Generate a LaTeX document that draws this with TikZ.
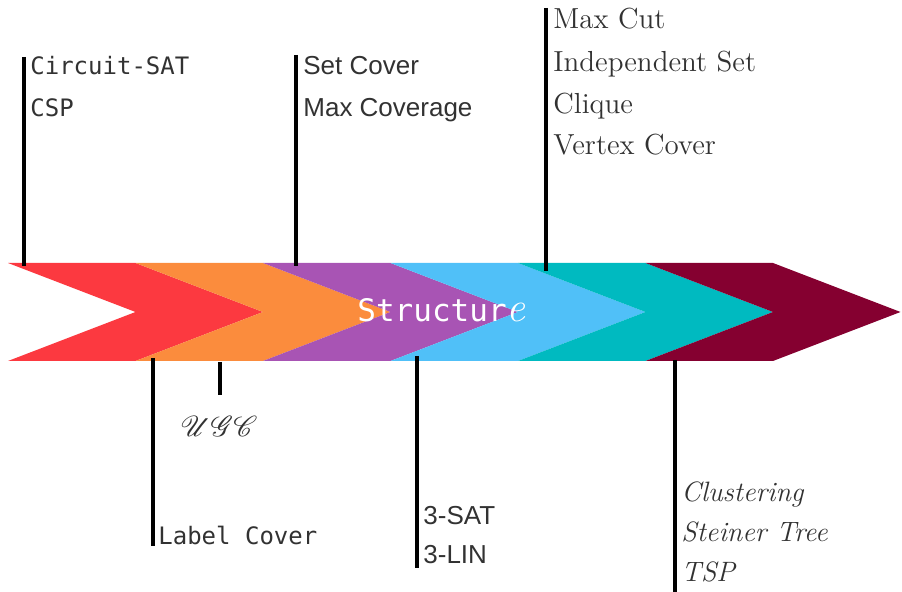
\documentclass[tikz,border=0pt]{standalone}
\usepackage{fontspec}
\usepackage{amsmath, mathrsfs}
\usepackage{tikz}
\setmonofont{DejaVu Sans Mono}
\newfontfamily\arialfont{Liberation Sans}
\definecolor{cRed}{RGB}{252,57,64}
\definecolor{cOrange}{RGB}{251,140,61}
\definecolor{cPurple}{RGB}{168,84,180}
\definecolor{cBlue}{RGB}{80,192,248}
\definecolor{cTeal}{RGB}{0,186,192}
\definecolor{cMaroon}{RGB}{133,0,48}
\definecolor{txtgray}{RGB}{50,50,50}
\tikzset{
  lbl/.style = {anchor=base west, inner sep=0pt, text=txtgray},
  monolbl/.style = {lbl, font=\ttfamily\fontsize{12}{14}\selectfont},
  sanslbl/.style = {lbl, font=\arialfont\fontsize{13}{15}\selectfont},
  seriflbl/.style = {lbl, font=\fontsize{14.5}{16}\selectfont},
  itlbl/.style = {lbl, font=\itshape\fontsize{14}{16}\selectfont},
  tbar/.style = {line width=2pt, black}
}

\begin{document}
\begin{tikzpicture}[x=0.5pt, y=-0.5pt]
        \useasboundingbox (0, 0) rectangle (902, 592);
        % chevrons
        \foreach \c [count=\i from 0] in {cRed, cOrange, cPurple, cBlue, cTeal, cMaroon} {
            \pgfmathsetmacro{\a}{8 + 127.5*\i}
            \fill[\c] (\a, 263) -- ++(127.5, 0) -- ++(127.5, 49) -- ++(-127.5, 49)
                -- ++(-127.5, 0) -- ++(127.5, -49) -- cycle;
        }
        \node[anchor=base west, inner sep=0pt, text=white] (Structure) at (357, 322)
            {\ttfamily\fontsize{15.5}{17}\selectfont Structur{\rmfamily\itshape\fontsize{21}{22}\selectfont e}};
        % labels above
        \node[monolbl] (Circuit-SAT) at (30, 75) {Circuit-SAT};
        \node[monolbl] (CSP) at (30, 117) {CSP};
        \node[sanslbl] (Set Cover) at (303, 75) {Set Cover};
        \node[sanslbl] (Max Coverage) at (303, 117) {Max Coverage};
        \node[seriflbl] (Max Cut) at (553, 29) {Max Cut};
        \node[seriflbl] (Independent Set) at (553, 72) {Independent Set};
        \node[seriflbl] (Clique) at (553, 114) {Clique};
        \node[seriflbl] (Vertex Cover) at (553, 155) {Vertex Cover};
        % labels below
        \node[anchor=base, inner sep=0pt, text=txtgray, font=\fontsize{15.5}{17}\selectfont] (UGC) at (219, 437) {$\mathscr{UGC}$};
        \node[monolbl] (Label Cover) at (158, 545) {Label Cover};
        \node[sanslbl] (3-SAT) at (423, 525) {3-SAT};
        \node[sanslbl] (3-LIN) at (423, 564) {3-LIN};
        \node[itlbl] (Clustering) at (681, 502) {Clustering};
        \node[itlbl] (Steiner Tree) at (681, 542) {Steiner Tree};
        \node[itlbl] (TSP) at (681, 582) {TSP};
        % bars
        \coordinate (Circuit top) at (24, 57);
        \coordinate (Circuit foot) at (24, 266);
        \coordinate (Cover top) at (296, 55);
        \coordinate (Cover foot) at (296, 266);
        \coordinate (Cut top) at (546, 8);
        \coordinate (Cut foot) at (546, 271);
        \coordinate (Label foot) at (153, 358);
        \coordinate (Label end) at (153, 546);
        \coordinate (UGC foot) at (220, 362);
        \coordinate (UGC end) at (220, 395);
        \coordinate (SAT foot) at (417, 356);
        \coordinate (SAT end) at (417, 568);
        \coordinate (TSP foot) at (675, 360);
        \coordinate (TSP end) at (675, 592);
        \draw[tbar] (Circuit top) -- (Circuit foot);
        \draw[tbar] (Cover top) -- (Cover foot);
        \draw[tbar] (Cut top) -- (Cut foot);
        \draw[tbar] (Label foot) -- (Label end);
        \draw[tbar] (UGC foot) -- (UGC end);
        \draw[tbar] (SAT foot) -- (SAT end);
        \draw[tbar] (TSP foot) -- (TSP end);
    \end{tikzpicture}
\end{document}
